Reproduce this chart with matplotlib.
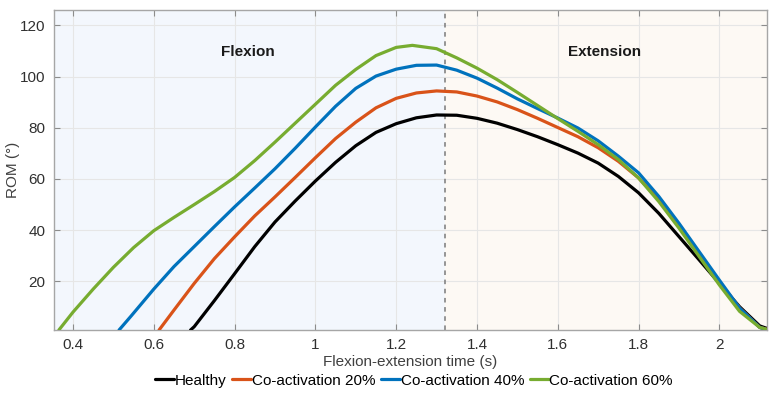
import numpy as np
from matplotlib import pyplot as plt

plt.rcParams['font.family'] = ['Liberation Sans', 'DejaVu Sans']

# time points (s) for each curve
t_healthy = [0.691, 0.70, 0.75, 0.80, 0.85, 0.90, 0.95, 1.00, 1.05, 1.10, 1.15, 1.20, 1.25, 1.30, 1.35,
             1.40, 1.45, 1.50, 1.55, 1.60, 1.65, 1.70, 1.75, 1.80, 1.85, 1.90, 1.95, 2.00, 2.05, 2.10, 2.12]
rom_healthy = [1, 2.3, 12.5, 23, 33.6, 43.2, 51.4, 59.2, 66.5, 73, 78.2, 81.6, 83.9, 85.0, 84.9,
               83.7, 81.8, 79.3, 76.5, 73.4, 70.1, 66.2, 61, 54.6, 46.6, 37.5, 28.4, 19.2, 10.1, 2.6, 1.5]

t_co20 = [0.613, 0.65, 0.70, 0.75, 0.80, 0.85, 0.90, 0.95, 1.00, 1.05, 1.10, 1.15, 1.20, 1.25, 1.30, 1.35,
          1.40, 1.45, 1.50, 1.55, 1.60, 1.65, 1.70, 1.75, 1.80, 1.85, 1.90, 1.95, 2.00, 2.05, 2.10, 2.12]
rom_co20 = [1, 8.8, 19.2, 28.9, 37.4, 45.6, 53, 60.6, 68.3, 75.8, 82.2, 87.8, 91.5, 93.6, 94.4, 94.0,
            92.4, 90.1, 87.1, 83.7, 80.1, 76.5, 72.2, 66.9, 60.4, 51.9, 42.1, 31, 19.9, 9.6, 2.0, 1.2]

t_co40 = [0.514, 0.544, 0.60, 0.65, 0.70, 0.75, 0.80, 0.85, 0.90, 0.95, 1.00, 1.05, 1.10, 1.15, 1.20, 1.25,
          1.30, 1.35, 1.40, 1.45, 1.50, 1.55, 1.60, 1.65, 1.70, 1.75, 1.80, 1.85, 1.90, 1.95, 2.00, 2.05,
          2.10, 2.12]
rom_co40 = [1, 6.5, 17, 25.8, 33.6, 41.4, 49.1, 56.5, 64, 72, 80.3, 88.4, 95.4, 100.2, 102.9, 104.4,
            104.5, 102.5, 99.4, 95.5, 91.3, 87.5, 83.8, 79.9, 74.9, 68.9, 62.4, 53.2, 42.7, 31.6, 20.5, 9.6,
            2.0, 1]

t_co60 = [0.365, 0.40, 0.45, 0.50, 0.55, 0.60, 0.65, 0.70, 0.75, 0.80, 0.85, 0.90, 0.95, 1.00, 1.05, 1.10,
          1.15, 1.20, 1.24, 1.30, 1.35, 1.40, 1.45, 1.50, 1.55, 1.60, 1.65, 1.70, 1.75, 1.80, 1.85, 1.90,
          1.95, 2.00, 2.05, 2.10, 2.115]
rom_co60 = [1, 8, 17, 25.5, 33.2, 39.8, 45, 50, 55.1, 60.6, 67.2, 74.4, 81.8, 89.2, 96.6, 102.8,
            108.2, 111.4, 112.2, 110.9, 107.3, 103.3, 98.8, 93.8, 88.7, 83.6, 78.6, 73.4, 67.6, 60.4, 51.2,
            40.8, 29.7, 18.6, 8.3, 2.0, 1.4]

series = [
    ("Healthy", t_healthy, rom_healthy, "black"),
    ("Co-activation 20%", t_co20, rom_co20, "#D95319"),
    ("Co-activation 40%", t_co40, rom_co40, "#0072BD"),
    ("Co-activation 60%", t_co60, rom_co60, "#77AC30"),
]

t_split = 1.32
xlim = (0.353, 2.118)
ylim = (1, 126)

fig = plt.figure(figsize=(7.74, 4.01), dpi=100)
ax = fig.add_axes([0.0698, 0.177, 0.9212, 0.798])

# flexion / extension background
ax.axvspan(xlim[0], t_split, color="#f3f7fd", zorder=0)
ax.axvspan(t_split, xlim[1], color="#fdf9f4", zorder=0)

for name, t, rom, col in series:
    ax.plot(t, rom, color=col, lw=2.3, label=name, zorder=3,
            solid_joinstyle="round", solid_capstyle="round")

ax.axvline(t_split, color="#7a7a7a", ls=(0, (3, 3)), lw=1.1, zorder=2)

ax.text(0.832, 109.7, "Flexion", fontsize=11, fontweight="bold", ha="center", va="center", color="#1a1a1a")
ax.text(1.717, 109.7, "Extension", fontsize=11, fontweight="bold", ha="center", va="center", color="#1a1a1a")

ax.set_xlim(xlim)
ax.set_ylim(ylim)
ax.set_xticks([0.4, 0.6, 0.8, 1.0, 1.2, 1.4, 1.6, 1.8, 2.0])
ax.set_xticklabels(["0.4", "0.6", "0.8", "1", "1.2", "1.4", "1.6", "1.8", "2"])
ax.set_yticks([20, 40, 60, 80, 100, 120])
ax.grid(True, color="#e6e6e6", lw=0.8, zorder=1)
ax.set_axisbelow(True)
ax.tick_params(direction="in", top=True, right=True, length=4, color="#8c8c8c",
               labelsize=11, labelcolor="#303030", pad=6)
for s in ax.spines.values():
    s.set_color("#a6a6a6")
    s.set_linewidth(1.0)

ax.set_xlabel("Flexion-extension time (s)", fontsize=11, color="#404040", labelpad=2)
ax.set_ylabel("ROM (°)", fontsize=11, color="#404040", labelpad=0)

ax.legend(loc="center", bbox_to_anchor=(0.505, -0.158), ncol=4, frameon=False, fontsize=11,
          handlelength=1.25, handletextpad=0.05, columnspacing=0.35, borderaxespad=0, borderpad=0)

fig.savefig("out.png", dpi=100)
